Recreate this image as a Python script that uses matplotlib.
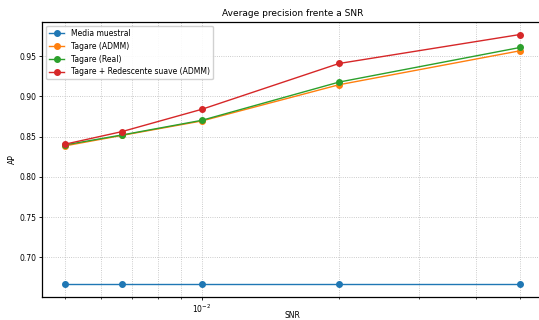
import matplotlib
matplotlib.use("Agg")
import matplotlib.pyplot as plt

snr = [1/200, 1/150, 1/100, 1/50, 1/20]
media_muestral = [0.6667, 0.6667, 0.6667, 0.6667, 0.6667]
tagare_admm = [0.8385, 0.8515, 0.8695, 0.9144, 0.9566]
tagare_real = [0.8397, 0.8520, 0.8703, 0.9177, 0.9607]
tagare_redesc = [0.8406, 0.8562, 0.8840, 0.9408, 0.9768]

labels = ["Media muestral", "Tagare (ADMM)", "Tagare (Real)",
          "Tagare + Redescente suave (ADMM)"]
series = [media_muestral, tagare_admm, tagare_real, tagare_redesc]
colors = ["#1f77b4", "#ff7f0e", "#2ca02c", "#d62728"]

fig = plt.figure(figsize=(5.39, 3.2), dpi=100)
ax = fig.add_axes([0.0785, 0.0728, 0.9286, 0.8584])
for y, lab, c in zip(series, labels, colors):
    ax.plot(snr, y, marker="o", markersize=4, linewidth=1.0, color=c, label=lab)
ax.set_xscale("log")
ax.set_xlim(0.005 / 10**(0.05), 0.05 * 10**(0.05))
ax.set_title("Average precision frente a SNR", fontsize=6.5, pad=4)
ax.set_xlabel("SNR", fontsize=5.5)
ax.xaxis.set_label_coords(0.5, -0.052)
ax.set_ylabel("AP", fontsize=5.5, labelpad=2)
ax.tick_params(labelsize=5.5, length=2.5, width=0.6, pad=1.5)
ax.tick_params(which="minor", length=1.5, width=0.5)
ax.grid(True, which="both", linestyle=":", linewidth=0.6, color="#bbbbbb")
ax.legend(loc="upper left", fontsize=5.5, framealpha=0.9)
for s in ax.spines.values():
    s.set_linewidth(0.9)
ax.spines["right"].set_visible(False)
fig.savefig("out.png", dpi=100)
